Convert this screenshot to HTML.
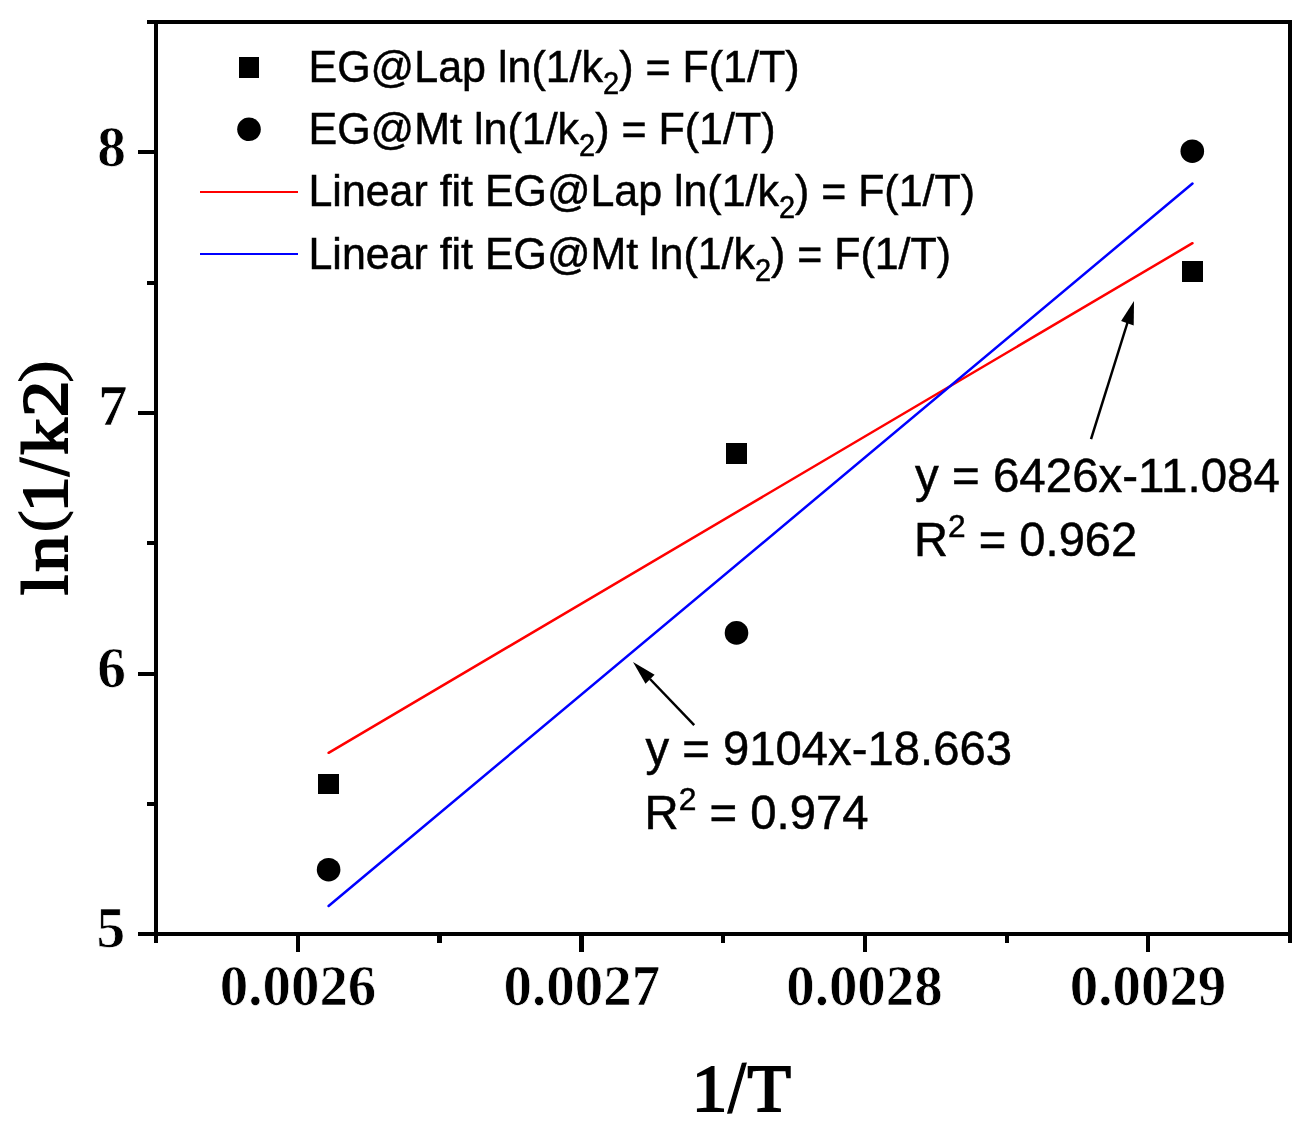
<!DOCTYPE html>
<html lang="en">
<head>
<meta charset="utf-8">
<title>ln(1/k2) vs 1/T</title>
<style>
html,body{margin:0;padding:0;background:#fff;}
body{width:1313px;height:1131px;overflow:hidden;position:relative;}
svg{position:absolute;left:0;top:0;display:block;}
.ax{fill:#000;shape-rendering:crispEdges;}
.sans{font-family:"Liberation Sans",Arial,sans-serif;fill:#000;stroke:#000;stroke-width:0.5px;}
.serif{font-family:"Liberation Serif","Times New Roman",serif;font-weight:bold;fill:#000;}
</style>
</head>
<body>
<svg width="1313" height="1131" viewBox="0 0 1313 1131">
<rect x="0" y="0" width="1313" height="1131" fill="#fff"/>

<!-- frame -->
<g class="ax">
  <rect x="147" y="20" width="1145" height="4"/>      <!-- top -->
  <rect x="138" y="932" width="1154" height="4"/>     <!-- bottom -->
  <rect x="154" y="20" width="4" height="923"/>       <!-- left -->
  <rect x="1288" y="20" width="4" height="923"/>      <!-- right -->
  <!-- y major ticks -->
  <rect x="138" y="150" width="16" height="4"/>
  <rect x="138" y="411" width="16" height="4"/>
  <rect x="138" y="672" width="16" height="4"/>
  <!-- y minor ticks -->
  <rect x="147" y="281" width="8" height="4"/>
  <rect x="147" y="541" width="8" height="4"/>
  <rect x="147" y="802" width="8" height="4"/>
  <!-- x major ticks -->
  <rect x="296" y="936" width="4" height="16"/>
  <rect x="579" y="936" width="5" height="16"/>
  <rect x="863" y="936" width="4" height="16"/>
  <rect x="1146" y="936" width="4" height="16"/>
  <!-- x minor ticks -->
  <rect x="437" y="936" width="5" height="7"/>
  <rect x="721" y="936" width="4" height="7"/>
  <rect x="1005" y="936" width="4" height="7"/>
</g>

<!-- fit lines -->
<line x1="328.6" y1="752.8" x2="1192.5" y2="243.2" stroke="#ff0000" stroke-width="2.5" stroke-linecap="round"/>
<line x1="328.6" y1="906" x2="1192.5" y2="183.5" stroke="#0000ff" stroke-width="2.5" stroke-linecap="round"/>

<!-- data points -->
<g fill="#000">
  <rect class="ax" x="318" y="774" width="21" height="20"/>
  <rect class="ax" x="726" y="443" width="21" height="21"/>
  <rect class="ax" x="1182" y="261" width="21" height="21"/>
  <circle cx="328.6" cy="869.7" r="11.8"/>
  <circle cx="736.5" cy="632.9" r="11.8"/>
  <circle cx="1192.3" cy="151.2" r="11.8"/>
</g>

<!-- legend -->
<rect class="ax" x="239" y="57" width="20" height="21"/>
<circle cx="249" cy="129.3" r="11.8" fill="#000"/>
<rect x="200" y="191" width="98" height="2" fill="#ff0000" shape-rendering="crispEdges"/>
<rect x="200" y="253" width="98" height="2" fill="#0000ff" shape-rendering="crispEdges"/>
<g class="sans" font-size="43">
  <text transform="translate(308.5 82) scale(1 1.05)">EG@Lap ln(1/k<tspan font-size="29" dy="11.5">2</tspan><tspan dy="-11.5">) = F(1/T)</tspan></text>
  <text transform="translate(308.5 144) scale(1 1.05)">EG@Mt ln(1/k<tspan font-size="29" dy="11.5">2</tspan><tspan dy="-11.5">) = F(1/T)</tspan></text>
  <text transform="translate(308.5 206) scale(0.998 1.05)">Linear fit EG@Lap ln(1/k<tspan font-size="29" dy="11.5">2</tspan><tspan dy="-11.5">) = F(1/T)</tspan></text>
  <text transform="translate(308.5 268.8) scale(0.998 1.05)">Linear fit EG@Mt ln(1/k<tspan font-size="29" dy="11.5">2</tspan><tspan dy="-11.5">) = F(1/T)</tspan></text>
</g>

<!-- annotations -->
<g class="sans" font-size="47.5">
  <text x="915" y="492">y = 6426x-11.084</text>
  <text transform="translate(914 556) scale(0.992 1)">R<tspan font-size="32" dy="-19">2</tspan><tspan dy="19"> = 0.962</tspan></text>
  <text transform="translate(645.5 764.5) scale(0.995 1)">y = 9104x-18.663</text>
  <text transform="translate(644.5 828.5) scale(0.996 1)">R<tspan font-size="32" dy="-19">2</tspan><tspan dy="19"> = 0.974</tspan></text>
</g>

<!-- arrows -->
<g stroke="#000" stroke-width="2.5" fill="#000">
  <line x1="1091" y1="439.2" x2="1128" y2="321"/>
  <polygon points="1134,301 1121.1,321.1 1133.7,325.4" stroke="none"/>
  <line x1="694.2" y1="725.1" x2="650" y2="679"/>
  <polygon points="633,661.9 654.6,674.8 645.5,683.7" stroke="none"/>
</g>

<!-- tick labels -->
<g class="serif" font-size="55.5" stroke="#fff" stroke-width="0.7">
  <text transform="translate(97.3 166) scale(1 1.03)" textLength="28.7" lengthAdjust="spacingAndGlyphs">8</text>
  <text transform="translate(98 425) scale(1 1.03)" textLength="29.5" lengthAdjust="spacingAndGlyphs">7</text>
  <text transform="translate(97.3 686.8) scale(1 1.03)" textLength="28.7" lengthAdjust="spacingAndGlyphs">6</text>
  <text transform="translate(96.5 946.8) scale(1 1.03)" textLength="28.7" lengthAdjust="spacingAndGlyphs">5</text>
  <text transform="translate(219.8 1005) scale(1 1.03)" textLength="156.5" lengthAdjust="spacingAndGlyphs">0.0026</text>
  <text transform="translate(503.6 1005) scale(1 1.03)" textLength="156.5" lengthAdjust="spacingAndGlyphs">0.0027</text>
  <text transform="translate(786.2 1005) scale(1 1.03)" textLength="156.5" lengthAdjust="spacingAndGlyphs">0.0028</text>
  <text transform="translate(1069.8 1005) scale(1 1.03)" textLength="156.5" lengthAdjust="spacingAndGlyphs">0.0029</text>
</g>

<!-- axis titles -->
<g font-family="Liberation Serif, Times New Roman, serif" fill="#000" stroke="#000" stroke-width="2" stroke-linejoin="miter">
<text font-size="67" transform="translate(0 1110.9) scale(1.06 1)"><tspan x="652.5" y="0">1</tspan><tspan x="686.5" y="1.6" font-size="73" stroke-width="1.2" rotate="-3.5">/</tspan><tspan x="705.1" y="0">T</tspan></text>
<text font-size="66" transform="translate(66.8 594) rotate(-90) scale(1.1 1)"><tspan x="-1" y="0">l</tspan><tspan x="20.15" y="0">n</tspan><tspan x="56.06" y="-6.4" font-size="60" stroke-width="1">(</tspan><tspan x="74.13" y="0">1</tspan><tspan x="106.9" y="1.6" font-size="72" stroke-width="1.2" rotate="-3.5">/</tspan><tspan x="126.6" y="0">k</tspan><tspan x="160.8" y="0">2</tspan><tspan x="192.4" y="-6.4" font-size="60" stroke-width="1">)</tspan></text>
</g>
</svg>
</body>
</html>
